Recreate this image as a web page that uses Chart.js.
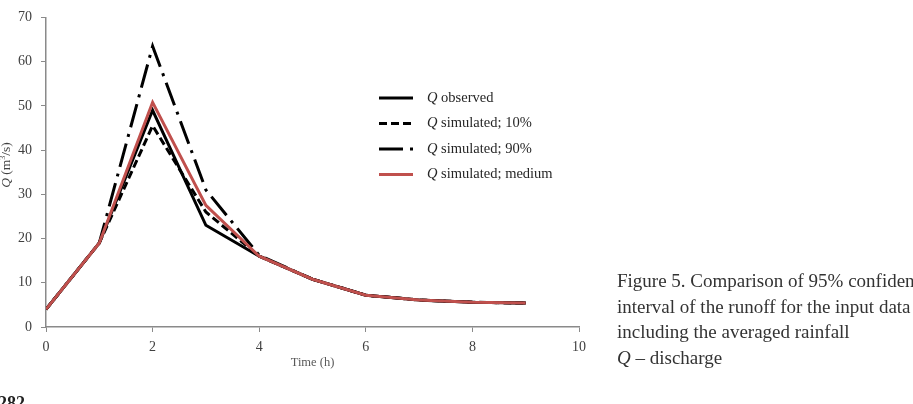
<!DOCTYPE html>
<html>
<head>
<meta charset="utf-8">
<script src="https://cdn.jsdelivr.net/npm/chart.js@4/dist/chart.umd.min.js"></script>
<style>
  html, body { margin: 0; padding: 0; background: #fff; overflow: hidden; }
  #wrap { position: relative; width: 913px; height: 404px; overflow: hidden; }
  #chart { position: absolute; left: 0; top: 0; }
  .caption {
    position: absolute; left: 617px; top: 268px;
    font-family: "Liberation Serif", serif; font-size: 19px; line-height: 25.5px;
    color: #333; white-space: nowrap;
  }
  .ytitle {
    position: absolute; left: 6px; top: 165px;
    transform: translate(-50%, -50%) rotate(-90deg);
    font-family: "Liberation Serif", serif; font-size: 13.5px; color: #404040; white-space: nowrap;
  }
  .page {
    position: absolute; left: -2px; top: 394px;
    font-family: "Liberation Serif", serif; font-size: 18px; font-weight: bold; line-height: 1; color: #222;
  }
</style>
</head>
<body>
<div id="wrap">
  <canvas id="chart" width="913" height="404"></canvas>
  <div class="ytitle"><i>Q</i> (m<sup style="font-size:8px">3</sup>/s)</div>
  <div class="caption">
    Figure 5. Comparison of 95% confidence<br>
    interval of the runoff for the input data<br>
    including the averaged rainfall<br>
    <i>Q</i> – discharge
  </div>
  <div class="page">282</div>
</div>
<script>
// time steps (h)
const hours = [0, 1, 2, 3, 4, 5, 6, 7, 8, 9];

// discharge Q (m3/s)
const qObserved = [4, 19, 49, 23, 16, 10.8, 7.2, 6.1, 5.6, 5.4];
const qSim10 = [4, 19, 45.5, 26, 16, 10.8, 7.2, 6.1, 5.6, 5.4];
const qSim90 = [4, 19, 63.5, 31, 16.2, 10.8, 7.2, 6.1, 5.6, 5.4];
const qMedium = [4, 19, 50.8, 27.5, 16, 10.8, 7.2, 6.1, 5.6, 5.4];

const seriesNames = ["observed", "simulated; 10%", "simulated; 90%", "simulated; medium"];
const xTicks = [0, 2, 4, 6, 8, 10];
const yTicks = [0, 10, 20, 30, 40, 50, 60, 70];

const pts = arr => hours.map((h, i) => ({ x: h, y: arr[i] }));

const serif = "'Liberation Serif', serif";
const axisGray = "#8a8a8a";

const lineLegend = {
    id: "lineLegend",
    afterDraw(chart) {
        const ctx = chart.ctx;
        const rows = [98, 123.5, 149, 174.5];
        chart.data.datasets.forEach((ds, i) => {
            const y = rows[i];
            ctx.save();
            ctx.strokeStyle = ds.borderColor;
            ctx.lineWidth = ds.borderWidth;
            ctx.setLineDash(ds.borderDash || []);
            ctx.beginPath();
            ctx.moveTo(379, y);
            ctx.lineTo(413, y);
            ctx.stroke();
            ctx.setLineDash([]);
            ctx.fillStyle = "#262626";
            ctx.textBaseline = "middle";
            ctx.font = "italic 14.5px " + serif;
            ctx.fillText("Q", 427, y);
            const w = ctx.measureText("Q ").width;
            ctx.font = "14.5px " + serif;
            ctx.fillText(seriesNames[i], 427 + w, y);
            ctx.restore();
        });
    }
};

new Chart(document.getElementById("chart"), {
    type: "line",
    data: {
        datasets: [
            { data: pts(qObserved), borderColor: "#000", borderWidth: 3, order: 1 },
            { data: pts(qSim10), borderColor: "#000", borderWidth: 3, borderDash: [8, 4], order: 2 },
            { data: pts(qSim90), borderColor: "#000", borderWidth: 3, borderDash: [24, 7, 3, 7], order: 3 },
            { data: pts(qMedium), borderColor: "#c0504d", borderWidth: 3, order: 0 }
        ]
    },
    options: {
        responsive: false,
        devicePixelRatio: 1,
        animation: false,
        elements: { point: { radius: 0 }, line: { tension: 0 } },
        layout: { padding: { left: 0, top: 10, right: 334, bottom: 0 } },
        plugins: { legend: { display: false }, tooltip: { enabled: false } },
        scales: {
            x: {
                type: "linear",
                min: 0,
                max: 10,
                afterBuildTicks: s => { s.ticks = xTicks.map(v => ({ value: v })); },
                afterFit: s => { s.height = 77; },
                border: { color: axisGray, width: 1.5 },
                grid: { drawOnChartArea: false, tickLength: 5, color: axisGray },
                ticks: { color: "#404040", padding: 7, font: { family: serif, size: 14 } },
                title: {
                    display: true, text: "Time (h)", color: "#595959",
                    font: { family: serif, size: 12.5 }, padding: { top: 0, bottom: 34 }
                }
            },
            y: {
                min: 0,
                max: 70,
                afterBuildTicks: s => { s.ticks = yTicks.map(v => ({ value: v })); },
                afterFit: s => { s.width = 46; },
                border: { color: axisGray, width: 1.5 },
                grid: { drawOnChartArea: false, tickLength: 5, color: axisGray },
                ticks: { color: "#404040", padding: 9, font: { family: serif, size: 14 } }
            }
        }
    },
    plugins: [lineLegend]
});
</script>
</body>
</html>
